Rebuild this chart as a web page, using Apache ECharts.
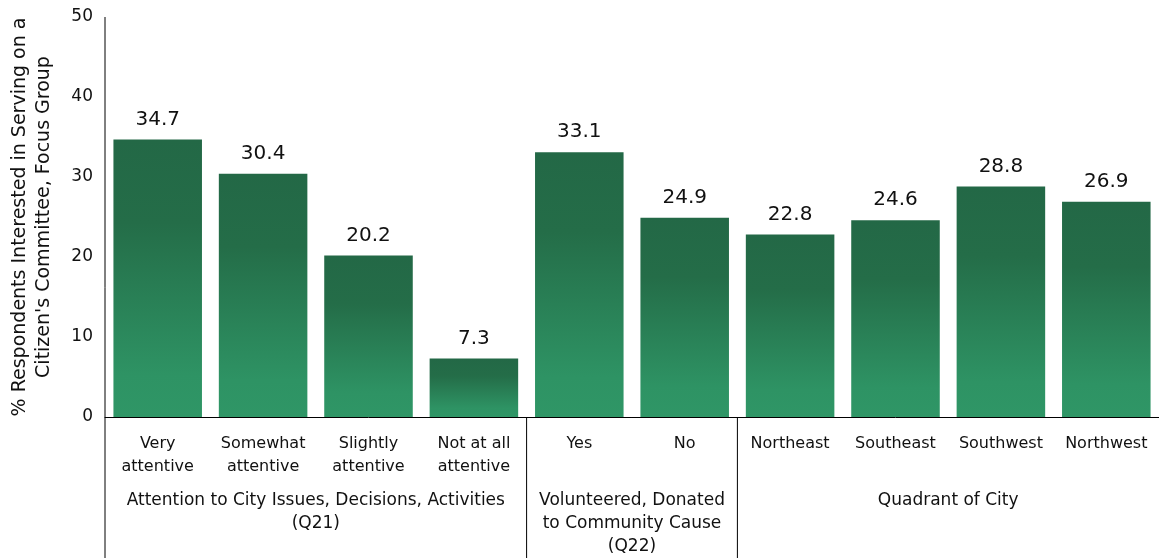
<!DOCTYPE html>
<html><head><meta charset="utf-8">
<script src="https://cdn.jsdelivr.net/npm/echarts@6/dist/echarts.min.js"></script>
<style>html,body{margin:0;padding:0;background:#fff}#c{width:1159px;height:558px}</style>
</head><body><div id="c"></div>
<script>
const categories = ['Very\nattentive','Somewhat\nattentive','Slightly\nattentive','Not at all\nattentive','Yes','No','Northeast','Southeast','Southwest','Northwest'];
const values = [34.7, 30.4, 20.2, 7.3, 33.1, 24.9, 22.8, 24.6, 28.8, 26.9];
const groupLabels = ['Attention to City Issues, Decisions, Activities\n(Q21)', 'Volunteered, Donated\nto Community Cause\n(Q22)', 'Quadrant of City'];
const groupSizes = [4, 2, 4];
const yTicks = [0, 10, 20, 30, 40, 50];

const FONT = 'DejaVu Sans';
const chart = echarts.init(document.getElementById('c'));
const grad = new echarts.graphic.LinearGradient(0,0,0,1,[
  {offset:0,color:'#236846'},{offset:0.3,color:'#246d48'},{offset:0.85,color:'#2e9364'},{offset:1,color:'#2f9666'}]);
chart.setOption({
  animation:false,
  textStyle:{fontFamily:FONT},
  grid:{left:104,right:0,top:17,bottom:141},
  xAxis:{type:'category',data:categories,
    axisLine:{show:true,lineStyle:{color:'#000',width:1}},axisTick:{show:false},
    axisLabel:{color:'#111',fontSize:16,fontFamily:FONT,margin:15,lineHeight:23,interval:0}},
  yAxis:{type:'value',min:yTicks[0],max:yTicks[yTicks.length-1],interval:10,
    name:'% Respondents Interested in Serving on a\nCitizen\'s Committee, Focus Group',
    nameLocation:'middle',nameGap:49,nameRotate:90,
    nameTextStyle:{color:'#111',fontSize:19,fontFamily:FONT,lineHeight:24},
    axisLine:{show:false},axisTick:{show:false},splitLine:{show:false},
    axisLabel:{color:'#111',fontSize:17,fontFamily:FONT,margin:12}},
  series:[{type:'bar',data:values,barCategoryGap:'16%',
    itemStyle:{color:grad},
    label:{show:true,position:'top',distance:10,color:'#111',fontSize:20,fontFamily:FONT}}]
});
function drawGroups(){
  const els=[];
  const y0=chart.convertToPixel({yAxisIndex:0},0);
  const top=chart.convertToPixel({yAxisIndex:0},50);
  const step = chart.convertToPixel({xAxisIndex:0},1)-chart.convertToPixel({xAxisIndex:0},0);
  const left = chart.convertToPixel({xAxisIndex:0},0)-step/2;
  els.push({type:'line',shape:{x1:left,y1:top,x2:left,y2:558},style:{stroke:'#000',lineWidth:1}});
  let idx=0;
  groupSizes.forEach((n,g)=>{
    const a = chart.convertToPixel({xAxisIndex:0},idx)-step/2;
    const b = chart.convertToPixel({xAxisIndex:0},idx+n-1)+step/2;
    if(g>0) els.push({type:'line',shape:{x1:a,y1:y0,x2:a,y2:558},style:{stroke:'#000',lineWidth:1}});
    els.push({type:'text',x:(a+b)/2,y:489,style:{text:groupLabels[g],fill:'#111',font:'17px "'+FONT+'"',align:'center',verticalAlign:'top',lineHeight:23}});
    idx+=n;
  });
  chart.setOption({graphic:els});
}
drawGroups();
</script></body></html>
